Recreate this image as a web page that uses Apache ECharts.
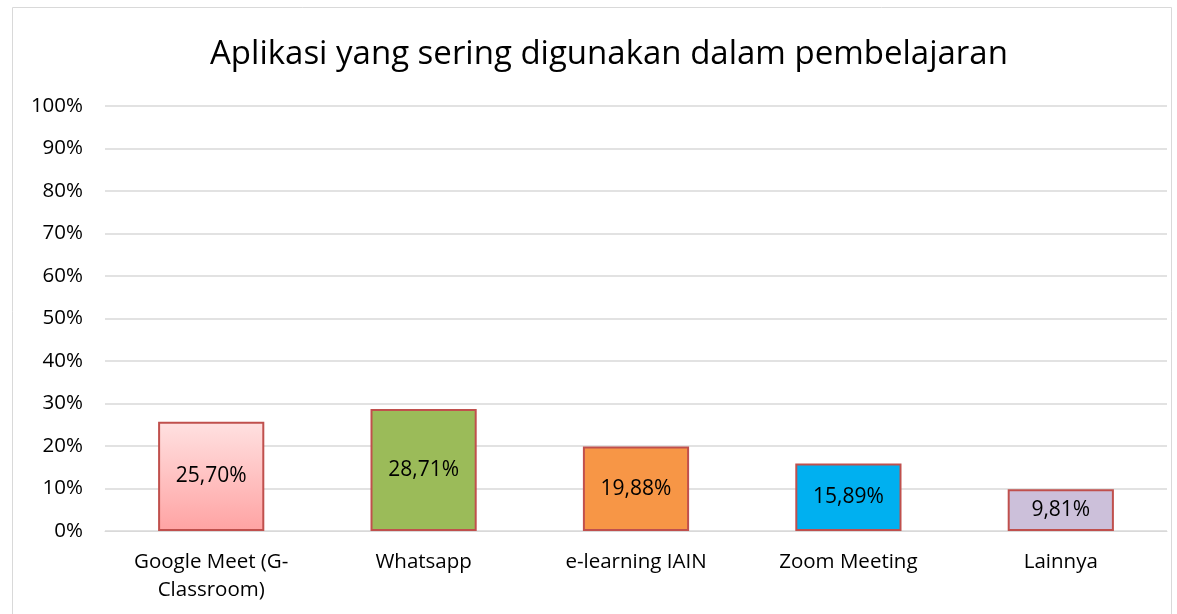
<!DOCTYPE html>
<html><head><meta charset="utf-8">
<script src="https://cdn.jsdelivr.net/npm/echarts@6/dist/echarts.min.js"></script>
<style>html,body{margin:0;padding:0;background:#fff}#c{width:1177px;height:614px}</style>
</head><body><div id="c"></div>
<script>
const categories = ["Google Meet (G-\nClassroom)", "Whatsapp", "e-learning IAIN", "Zoom Meeting", "Lainnya"];
const values = [25.70, 28.71, 19.88, 15.89, 9.81];
const labels = ["25,70%", "28,71%", "19,88%", "15,89%", "9,81%"];
const colors = [null, "#9BBB59", "#F79646", "#00B0F0", "#CCC0DA"];
const FONT = "Open Sans";
const chart = echarts.init(document.getElementById('c'));
const data = values.map((v, i) => ({
  value: v,
  itemStyle: {
    color: i === 0 ? new echarts.graphic.LinearGradient(0, 0, 0, 1, [
      {offset: 0, color: '#FFE1E1'}, {offset: 1, color: '#FFA3A3'}]) : colors[i]
  },
  label: {formatter: labels[i]}
}));
chart.setOption({
  animation: false,
  title: {text: 'Aplikasi yang sering digunakan dalam pembelajaran', left: 205, top: 33,
    textStyle: {fontFamily: FONT, fontSize: 33, fontWeight: 'normal', color: '#000'}},
  graphic: [{type: 'rect', shape: {x: 12.5, y: 7.5, width: 1159, height: 620},
    style: {fill: 'none', stroke: '#D9D9D9', lineWidth: 1}}],
  grid: {left: 105, right: 10, top: 106, bottom: 83},
  xAxis: {type: 'category', data: categories,
    axisLine: {show: true, lineStyle: {color: '#D9D9D9'}}, axisTick: {show: false},
    axisLabel: {fontFamily: FONT, fontSize: 20.5, color: '#000', margin: 17, lineHeight: 28, interval: 0}},
  yAxis: {type: 'value', min: 0, max: 100, interval: 10,
    axisLabel: {formatter: '{value}%', fontFamily: FONT, fontSize: 20.5, color: '#000', margin: 22},
    splitLine: {lineStyle: {color: '#D9D9D9', width: 1.5}}, axisLine: {show: false}, axisTick: {show: false}},
  series: [{type: 'bar', data: data, barWidth: '50%',
    itemStyle: {borderColor: '#C0504D', borderWidth: 2},
    label: {show: true, position: 'inside', fontFamily: FONT, fontSize: 21, color: '#000'}}]
});
</script></body></html>
